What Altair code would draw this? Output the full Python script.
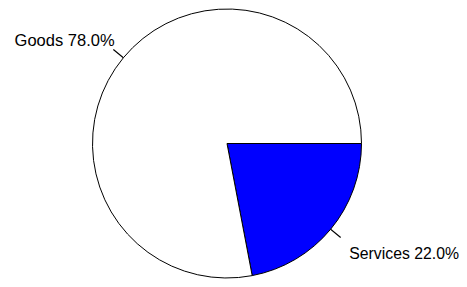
import altair as alt
import pandas as pd

categories = ["Services", "Goods"]
values = [22.0, 78.0]
labels = ["Services 22.0%", "Goods 78.0%"]
colors = ["#0000FF", "#FFFFFF"]
order = [0, 1]

df = pd.DataFrame({"category": categories, "value": values, "label": labels, "order": order})

CX, CY, R = 219, 135.5, 134.5
FONT = "Liberation Sans"

base = (
    alt.Chart(df)
    .transform_window(cum="sum(value)", sort=[alt.SortField("order")])
    .transform_joinaggregate(total="sum(value)")
    .transform_calculate(
        t0="PI/2 + 2*PI*(datum.cum - datum.value)/datum.total",
        t1="PI/2 + 2*PI*datum.cum/datum.total",
    )
    .transform_calculate(tm="(datum.t0 + datum.t1)/2")
    .transform_calculate(la="datum.tm - 0.004", lb="datum.tm + 0.004")
)

pie = base.mark_arc(radius=R, stroke="black", strokeWidth=1).encode(
    theta=alt.Theta("t0:Q", scale=None),
    theta2="t1:Q",
    fill=alt.Fill("category:N", scale=alt.Scale(domain=categories, range=colors), legend=None),
    x=alt.value(CX),
    y=alt.value(CY),
)

leaders = base.mark_arc(radius=R, radius2=R + 13, fill="black").encode(
    theta=alt.Theta("la:Q", scale=None),
    theta2="lb:Q",
    x=alt.value(CX),
    y=alt.value(CY),
)

goods_text = base.transform_filter("datum.category == 'Goods'").mark_text(
    radius=155, align="right", baseline="middle", dx=7, dy=-4, fontSize=16.5, font=FONT, color="black"
).encode(theta=alt.Theta("tm:Q", scale=None), text="label:N", x=alt.value(CX), y=alt.value(CY))

serv_text = base.transform_filter("datum.category == 'Services'").mark_text(
    radius=160, align="left", baseline="middle", dx=-1, dy=9, fontSize=15.8, font=FONT, color="black"
).encode(theta=alt.Theta("tm:Q", scale=None), text="label:N", x=alt.value(CX), y=alt.value(CY))

chart = (
    alt.layer(pie, leaders, goods_text, serv_text)
    .properties(width=451, height=271, padding=0, autosize=alt.AutoSizeParams(type="none"))
    .configure_view(stroke=None)
)

chart.save("out.html", embed_options={"renderer": "svg", "actions": False})
